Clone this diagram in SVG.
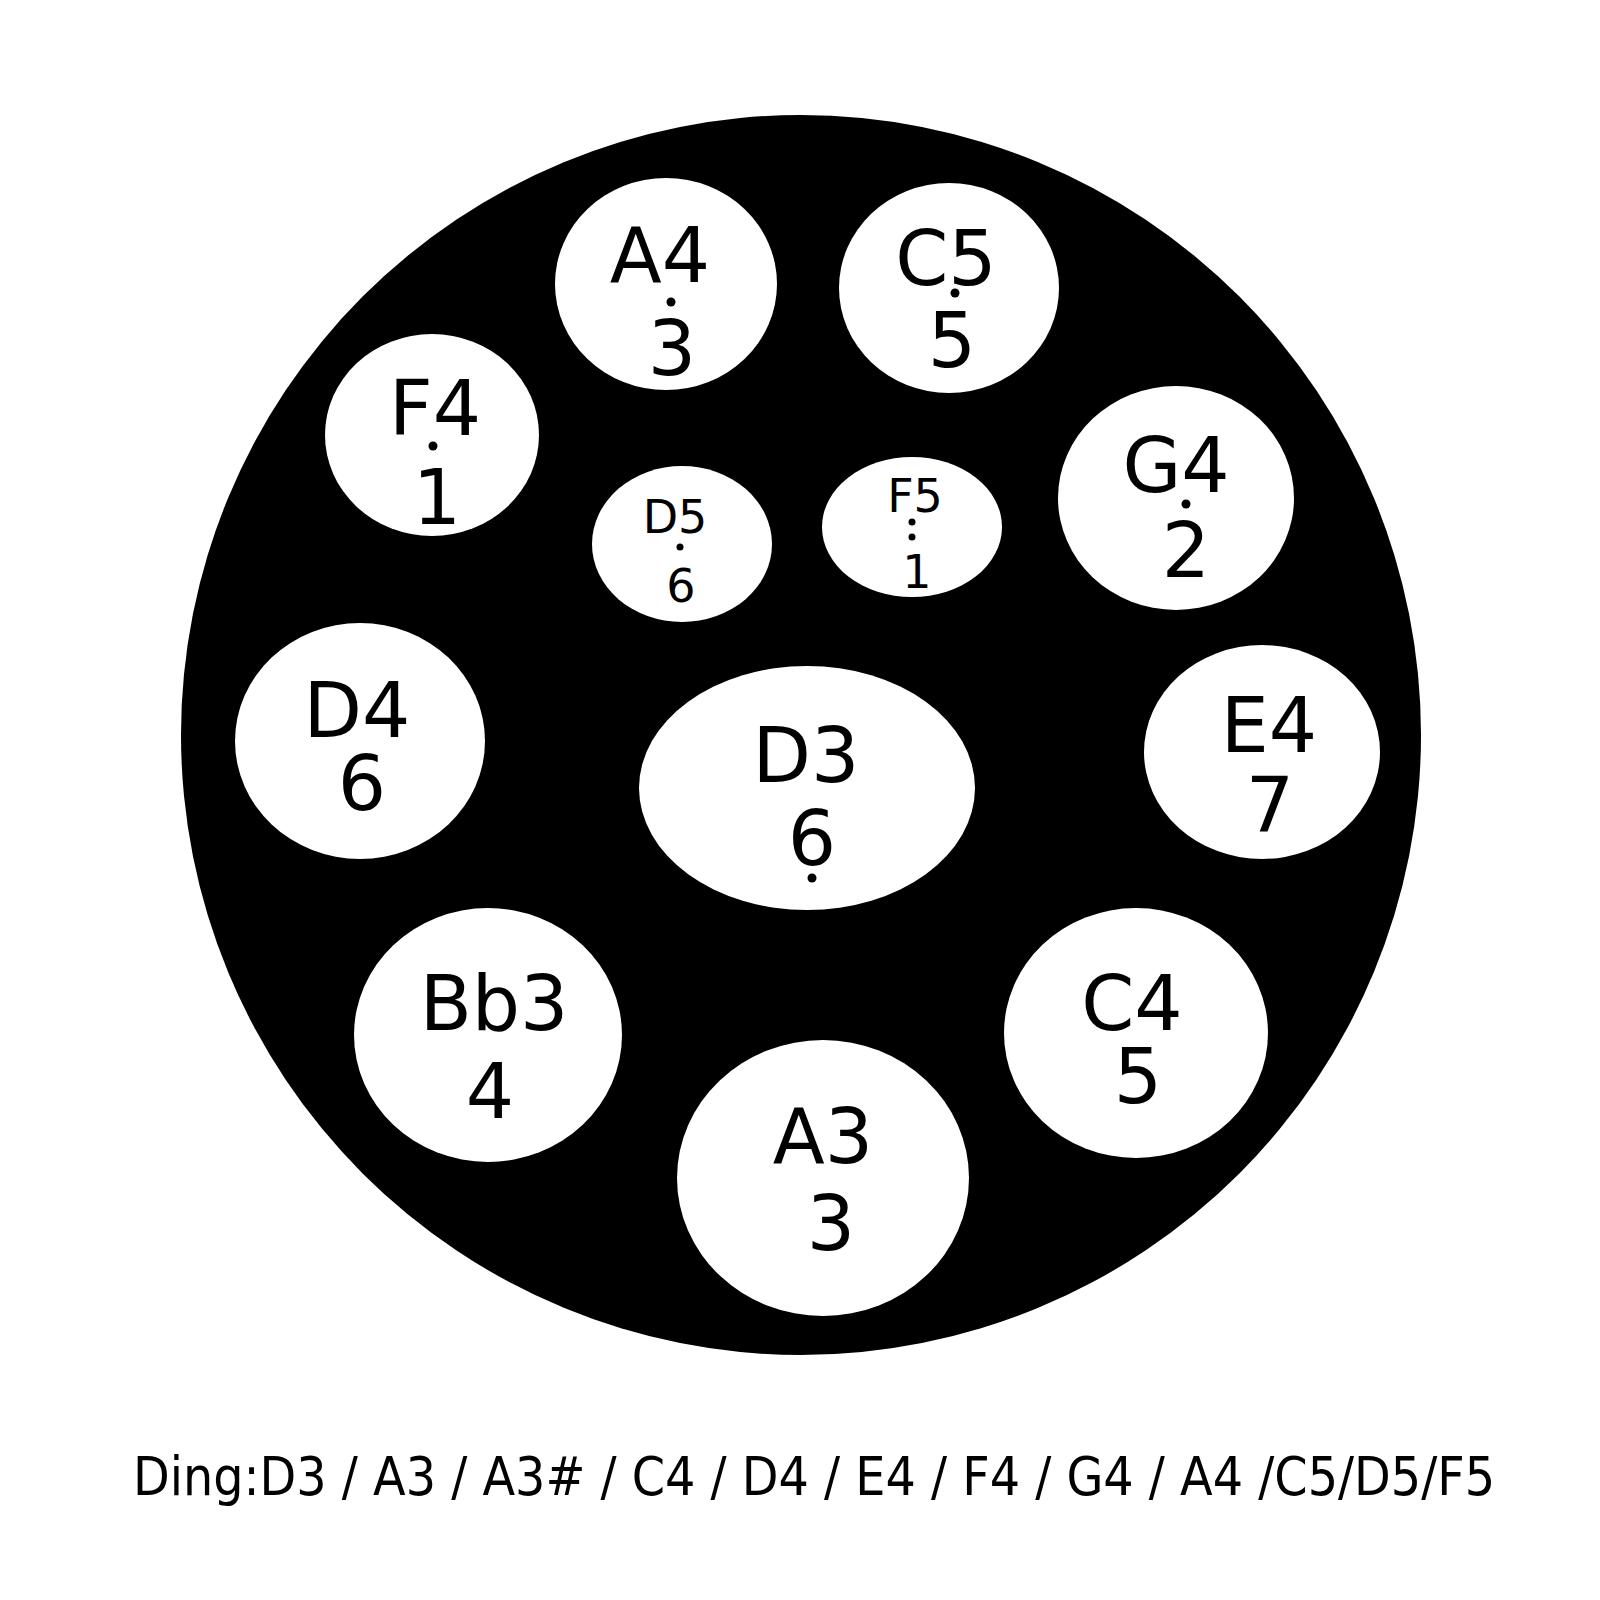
<svg xmlns="http://www.w3.org/2000/svg" width="1600" height="1600" viewBox="0 0 1600 1600">
<style>
.pad{fill:#fff}
.t{font-family:"DejaVu Sans","Liberation Sans",sans-serif;fill:#000;text-anchor:middle}
.big{font-size:76px}
.sm{font-size:46px}
.dot{fill:#000}
</style>
<rect width="1600" height="1600" fill="#fff"/>
<circle id="drum" cx="801" cy="735" r="620" fill="#000"/>
<g id="A4"><ellipse class="pad" cx="666" cy="284" rx="111" ry="106"/><text class="t big" x="660" y="282">A4</text><circle class="dot" cx="671" cy="302" r="4.5"/><text class="t big" x="672" y="375">3</text></g>
<g id="C5"><ellipse class="pad" cx="949" cy="288" rx="110" ry="105"/><text class="t big" x="946" y="285">C5</text><circle class="dot" cx="955" cy="293" r="4.5"/><text class="t big" x="952" y="367">5</text></g>
<g id="F4"><ellipse class="pad" cx="432" cy="435" rx="107" ry="101"/><text class="t big" x="435" y="435">F4</text><circle class="dot" cx="433" cy="446" r="4.5"/><text class="t big" x="437" y="524">1</text></g>
<g id="D5"><ellipse class="pad" cx="682" cy="544" rx="90" ry="78"/><text class="t sm" x="675" y="533">D5</text><circle class="dot" cx="680" cy="547" r="3.5"/><text class="t sm" x="681" y="602">6</text></g>
<g id="F5"><ellipse class="pad" cx="912" cy="527" rx="90" ry="70"/><text class="t sm" x="915" y="512">F5</text><circle class="dot" cx="912" cy="522" r="3.5"/><circle class="dot" cx="912" cy="537" r="3.5"/><text class="t sm" x="917" y="588">1</text></g>
<g id="G4"><ellipse class="pad" cx="1176" cy="498" rx="118" ry="112"/><text class="t big" x="1176" y="492">G4</text><circle class="dot" cx="1186" cy="504" r="4.5"/><text class="t big" x="1186" y="577">2</text></g>
<g id="D4"><ellipse class="pad" cx="360" cy="741" rx="125" ry="118"/><text class="t big" x="357" y="737">D4</text><text class="t big" x="362" y="810">6</text></g>
<g id="D3"><ellipse class="pad" cx="807" cy="788" rx="168" ry="122"/><text class="t big" x="806" y="782">D3</text><text class="t big" x="812" y="865">6</text><circle class="dot" cx="812" cy="878" r="4.5"/></g>
<g id="E4"><ellipse class="pad" cx="1262" cy="752" rx="118" ry="107"/><text class="t big" x="1269" y="752">E4</text><text class="t big" x="1270" y="832">7</text></g>
<g id="Bb3"><ellipse class="pad" cx="488" cy="1035" rx="134" ry="127"/><text class="t big" x="494" y="1030">Bb3</text><text class="t big" x="490" y="1118">4</text></g>
<g id="C4"><ellipse class="pad" cx="1136" cy="1033" rx="132" ry="125"/><text class="t big" x="1132" y="1030">C4</text><text class="t big" x="1138" y="1103">5</text></g>
<g id="A3"><ellipse class="pad" cx="823" cy="1178" rx="146" ry="138"/><text class="t big" x="823" y="1163">A3</text><text class="t big" x="831" y="1250">3</text></g>
<g id="connectors"></g>
<text id="legend" x="133" y="1495" font-family="DejaVu Sans, Liberation Sans, sans-serif" font-size="54" fill="#000" textLength="1362" lengthAdjust="spacingAndGlyphs">Ding:D3 / A3 / A3# / C4 / D4 / E4 / F4 / G4 / A4 /C5/D5/F5</text>
</svg>
